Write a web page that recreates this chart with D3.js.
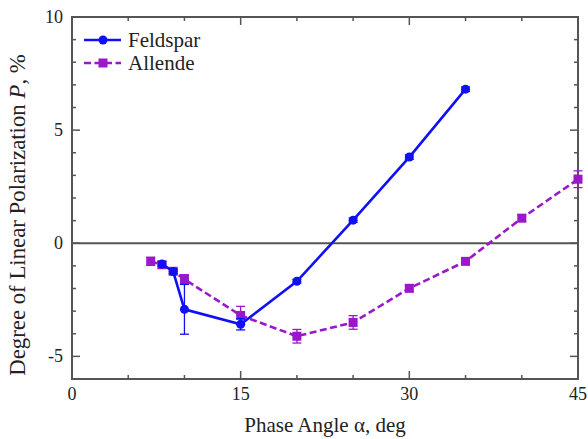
<!DOCTYPE html>
<html lang="en">
<head>
  <meta charset="UTF-8" />
  <title>Polarization vs Phase Angle</title>
  <script src="https://d3js.org/d3.v7.min.js"></script>
  <style>
    body { margin: 0; background: #fff; }
    svg { display: block; }
    svg text { font-family: "Liberation Serif", "Times New Roman", Times, serif; }
  </style>
</head>
<body>
  <svg width="588" height="439"></svg>
  <script>
    // Data
    const feldsparAngle = [8, 9, 10, 15, 20, 25, 30, 35];
    const feldsparP     = [-0.92, -1.25, -2.92, -3.58, -1.68, 1.02, 3.81, 6.81];
    const feldsparErr   = [0.1, 0.1, 1.1, 0.25, 0.08, 0.1, 0.1, 0.1];

    const allendeAngle = [7, 8, 9, 10, 15, 20, 25, 30, 35, 40, 45];
    const allendeP     = [-0.8, -0.95, -1.24, -1.59, -3.19, -4.11, -3.5, -1.99, -0.8, 1.11, 2.83];
    const allendeErr   = [0.18, 0.15, 0.1, 0.2, 0.4, 0.3, 0.3, 0.15, 0.08, 0.15, 0.37];

    const xMajor = [0, 15, 30, 45];
    const yMajor = [-5, 0, 5, 10];

    const svg = d3.select("svg");
    const m = { left: 72, right: 10, top: 17, bottom: 60 };
    const W = 588, H = 439;
    const axisColor = "#555";
    const blue = "#1010f5";
    const purple = "#9a18c8";
    const serif = "'Liberation Serif', 'Times New Roman', Times, serif";

    const x = d3.scaleLinear().domain([0, 45]).range([m.left, W - m.right]);
    const y = d3.scaleLinear().domain([-6, 10]).range([H - m.bottom, m.top]);

    const g = svg.append("g").attr("font-family", serif);

    // minor + major ticks, inward, on all four sides
    const xMinor = d3.range(0, 46, 5);
    const yMinor = d3.range(-6, 11, 1);
    function tickLen(v, majors) { return majors.includes(v) ? 8 : 4; }

    xMinor.forEach(v => {
      const L = tickLen(v, xMajor);
      g.append("line").attr("x1", x(v)).attr("x2", x(v))
        .attr("y1", y(-6)).attr("y2", y(-6) - L)
        .attr("stroke", axisColor).attr("stroke-width", 1.5);
      g.append("line").attr("x1", x(v)).attr("x2", x(v))
        .attr("y1", y(10)).attr("y2", y(10) + L)
        .attr("stroke", axisColor).attr("stroke-width", 1.5);
    });
    yMinor.forEach(v => {
      const L = tickLen(v, yMajor);
      g.append("line").attr("x1", x(0)).attr("x2", x(0) + L)
        .attr("y1", y(v)).attr("y2", y(v))
        .attr("stroke", axisColor).attr("stroke-width", 1.5);
      g.append("line").attr("x1", x(45)).attr("x2", x(45) - L)
        .attr("y1", y(v)).attr("y2", y(v))
        .attr("stroke", axisColor).attr("stroke-width", 1.5);
    });

    // tick labels
    g.selectAll("text.xt").data(xMajor).enter().append("text")
      .attr("x", d => x(d)).attr("y", y(-6) + 21)
      .attr("text-anchor", "middle").attr("font-size", 18).attr("fill", "#222")
      .text(d => d);
    g.selectAll("text.yt").data(yMajor).enter().append("text")
      .attr("x", x(0) - 9).attr("y", d => y(d) + 6)
      .attr("text-anchor", "end").attr("font-size", 18).attr("fill", "#222")
      .text(d => d);

    // zero line
    g.append("line").attr("x1", x(0)).attr("x2", x(45))
      .attr("y1", y(0)).attr("y2", y(0))
      .attr("stroke", axisColor).attr("stroke-width", 1.8);

    // frame
    g.append("rect").attr("x", x(0)).attr("y", y(10))
      .attr("width", x(45) - x(0)).attr("height", y(-6) - y(10))
      .attr("fill", "none").attr("stroke", axisColor).attr("stroke-width", 2);

    function drawSeries(ax, py, err, color, dashed, shape) {
      const pts = ax.map((a, i) => ({ a, p: py[i], e: err[i] }));
      const line = d3.line().x(d => x(d.a)).y(d => y(d.p));
      g.append("path").datum(pts).attr("d", line)
        .attr("fill", "none").attr("stroke", color).attr("stroke-width", 2.6)
        .attr("stroke-dasharray", dashed ? "7,3.5" : null);
      const eb = g.append("g").attr("stroke", color).attr("stroke-width", 1.3);
      pts.forEach(d => {
        eb.append("line").attr("x1", x(d.a)).attr("x2", x(d.a))
          .attr("y1", y(d.p - d.e)).attr("y2", y(d.p + d.e));
        [d.p - d.e, d.p + d.e].forEach(v => {
          eb.append("line").attr("x1", x(d.a) - 4.5).attr("x2", x(d.a) + 4.5)
            .attr("y1", y(v)).attr("y2", y(v));
        });
      });
      pts.forEach(d => marker(x(d.a), y(d.p), color, shape));
    }

    function marker(cx, cy, color, shape) {
      if (shape === "circle") {
        g.append("circle").attr("cx", cx).attr("cy", cy).attr("r", 4.5).attr("fill", color);
      } else {
        g.append("rect").attr("x", cx - 4.5).attr("y", cy - 4.5)
          .attr("width", 9).attr("height", 9).attr("fill", color);
      }
    }

    drawSeries(allendeAngle, allendeP, allendeErr, purple, true, "square");
    drawSeries(feldsparAngle, feldsparP, feldsparErr, blue, false, "circle");

    // legend
    const legend = [
      { name: "Feldspar", color: blue, dashed: false, shape: "circle" },
      { name: "Allende", color: purple, dashed: true, shape: "square" }
    ];
    legend.forEach((d, i) => {
      const ly = 40 + i * 23;
      g.append("line").attr("x1", 84).attr("x2", 121).attr("y1", ly).attr("y2", ly)
        .attr("stroke", d.color).attr("stroke-width", 2.6)
        .attr("stroke-dasharray", d.dashed ? "7,3.5" : null);
      marker(103, ly, d.color, d.shape);
      g.append("text").attr("x", 128).attr("y", ly + 7)
        .attr("font-size", 21).attr("fill", "#222").text(d.name);
    });

    // axis titles
    g.append("text").attr("x", (x(0) + x(45)) / 2).attr("y", 432)
      .attr("text-anchor", "middle").attr("font-size", 21).attr("fill", "#222")
      .text("Phase Angle α, deg");

    const yt = g.append("text")
      .attr("transform", "translate(25,215) rotate(-90)")
      .attr("text-anchor", "middle").attr("font-size", 22.8).attr("fill", "#222");
    yt.append("tspan").text("Degree of Linear Polarization ");
    yt.append("tspan").attr("font-style", "italic").text("P");
    yt.append("tspan").text(", %");
  </script>
</body>
</html>
